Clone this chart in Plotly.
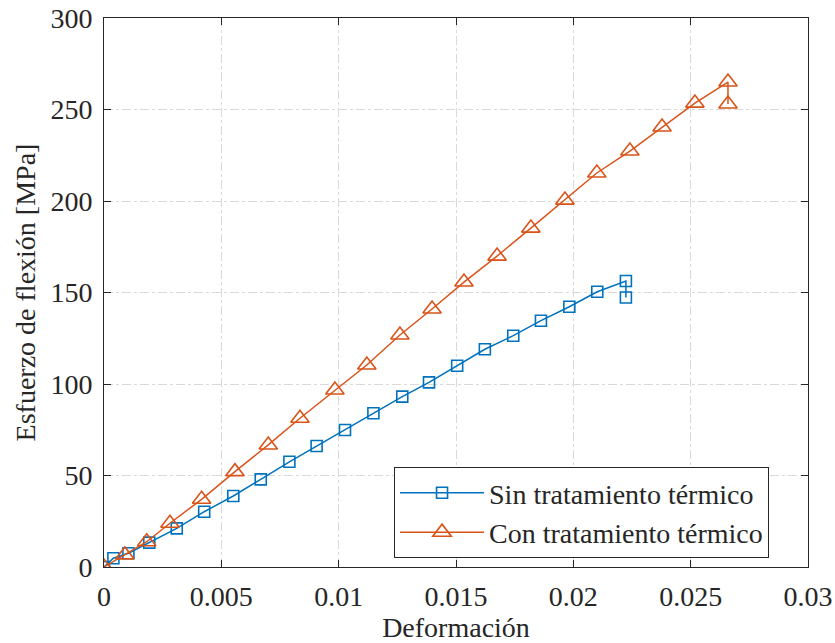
import plotly.graph_objects as go

# Data
sin_x = [0, 0.0004, 0.00104, 0.00193, 0.0031, 0.00427, 0.00551, 0.00668, 0.0079, 0.00906,
         0.01027, 0.01148, 0.01271, 0.01385, 0.01505, 0.01623, 0.01744, 0.01862, 0.01983,
         0.02102, 0.02224, 0.02224]
sin_y = [0, 4.8, 7.5, 13.3, 21.1, 30.2, 38.8, 47.9, 57.5, 66.1,
         74.9, 84.0, 93.1, 100.9, 110.0, 119.0, 126.4, 134.6, 142.2,
         150.4, 156.3, 147.3]

con_x = [0, 0.00089, 0.00182, 0.00281, 0.00416, 0.00558, 0.007, 0.00835, 0.00984, 0.0112,
         0.01261, 0.01398, 0.01534, 0.01675, 0.01819, 0.01964, 0.021, 0.02241, 0.02378,
         0.02518, 0.02659, 0.02659]
con_y = [0, 6.6, 13.8, 23.9, 37.0, 52.1, 66.7, 81.3, 96.7, 110.4,
         126.8, 141.0, 155.7, 169.9, 185.2, 200.5, 215.3, 227.3, 240.4,
         253.5, 265.0, 253.0]

x_ticks = [0, 0.005, 0.01, 0.015, 0.02, 0.025, 0.03]
x_ticklabels = ["0", "0.005", "0.01", "0.015", "0.02", "0.025", "0.03"]
y_ticks = [0, 50, 100, 150, 200, 250, 300]
y_ticklabels = ["0", "50", "100", "150", "200", "250", "300"]

series_names = ["Sin tratamiento térmico", "Con tratamiento térmico"]

BLUE = "#0072BD"
ORANGE = "#D95319"
AX = "#262626"
FONT = "Liberation Serif"
FS = 28

fig = go.Figure()
fig.add_trace(go.Scatter(
    x=sin_x, y=sin_y, mode="lines+markers", name=series_names[0],
    line=dict(color=BLUE, width=1.5),
    marker=dict(symbol="square-open", size=11, color=BLUE, line=dict(width=1.6, color=BLUE)),
))
fig.add_trace(go.Scatter(
    x=con_x, y=con_y, mode="lines+markers", name=series_names[1],
    line=dict(color=ORANGE, width=1.5),
    marker=dict(symbol="triangle-up-open", size=16, color=ORANGE, line=dict(width=1.6, color=ORANGE)),
))

axis_common = dict(
    showline=True, linecolor=AX, linewidth=1, mirror="ticks",
    ticks="inside", ticklen=7, tickcolor=AX, tickwidth=1,
    showgrid=True, gridcolor="#d9d9d9", gridwidth=1, griddash="dashdot",
    zeroline=False, automargin=False,
    tickfont=dict(family=FONT, size=FS, color=AX),
)

fig.update_xaxes(
    range=[0, 0.03], tickvals=x_ticks, ticktext=x_ticklabels, ticklabelstandoff=4,
    title=dict(text="Deformación", font=dict(family=FONT, size=FS, color=AX), standoff=8),
    **axis_common,
)
fig.update_yaxes(
    range=[0, 300], tickvals=y_ticks, ticktext=y_ticklabels, ticklabelstandoff=5,
    title=dict(text="Esfuerzo de flexión [MPa]", font=dict(family=FONT, size=FS, color=AX), standoff=6),
    **axis_common,
)

fig.update_layout(
    width=835, height=643,
    margin=dict(l=104, r=27, t=18, b=76),
    paper_bgcolor="white", plot_bgcolor="white",
    font=dict(family=FONT, size=FS, color=AX),
    legend=dict(
        x=0.412, y=0.182, xanchor="left", yanchor="top",
        bgcolor="white", bordercolor=AX, borderwidth=1,
        font=dict(family=FONT, size=FS, color=AX),
        itemwidth=84, tracegroupgap=0,
    ),
    showlegend=True,
)

fig.write_html("out.html", config={"displayModeBar": False},
               post_script="document.body.style.margin='0';")
